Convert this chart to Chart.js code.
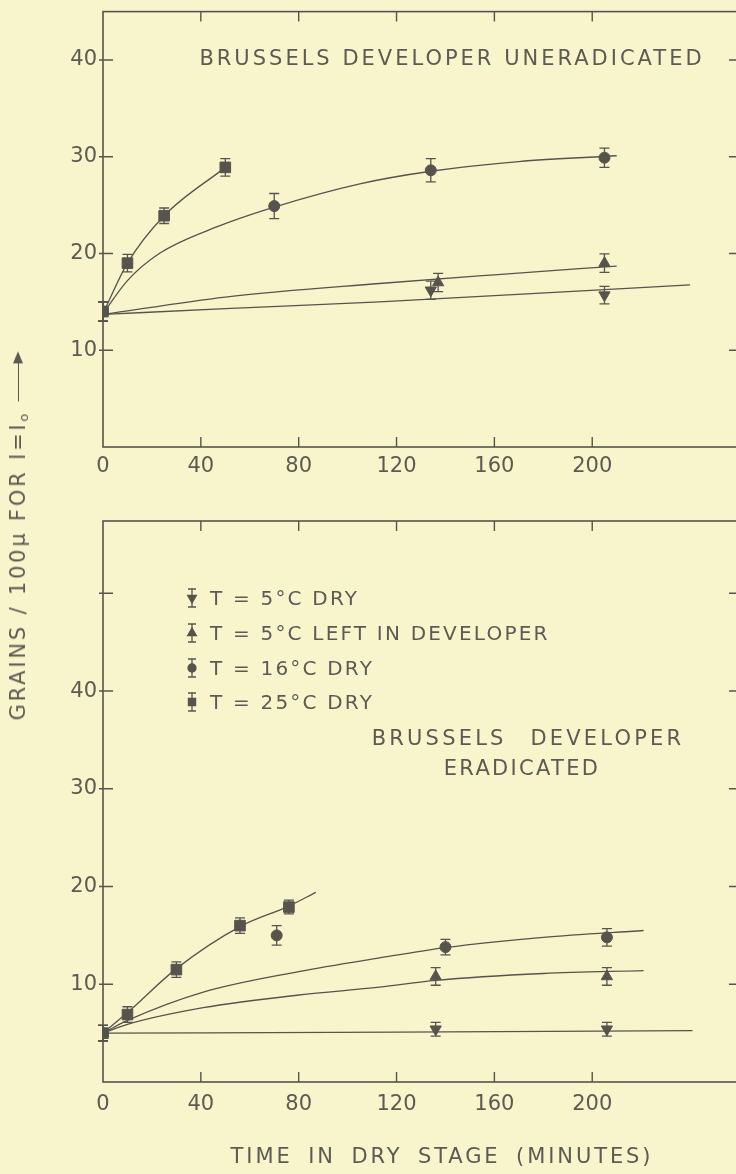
<!DOCTYPE html>
<html>
<head>
<meta charset="utf-8">
<script src="https://cdn.jsdelivr.net/npm/chart.js@4.4.1/dist/chart.umd.min.js"></script>
<style>
html, body { margin: 0; padding: 0; background: #f8f5cc; overflow: hidden; width: 736px; height: 1174px; }
#wrap { position: relative; width: 736px; height: 1174px; overflow: hidden;
        font-family: "DejaVu Sans", "Liberation Sans", sans-serif; color: #5c5a52; }
canvas { position: absolute; left: 0; }
.txt { position: absolute; white-space: nowrap; line-height: 1; font-size: 21px; letter-spacing: 2px; }
.ctr { transform: translate(-50%, -50%); }
.lg { font-size: 20px; letter-spacing: 2.2px; transform: translateY(-50%); }
#ytitle { position: absolute; left: 19px; top: 537px; white-space: nowrap; line-height: 1;
          font-size: 21px; letter-spacing: 2.8px; transform: translate(-50%, -50%) rotate(-90deg); }
#ytitle sub { font-size: 13px; vertical-align: -3px; letter-spacing: 0; }
.arrow { display: inline-block; position: relative; width: 48px; height: 1.5px; background: #5c5a52;
         vertical-align: 6px; margin-left: 12px; }
.arrow:after { content: ""; position: absolute; right: -2px; top: -5px; border-left: 12px solid #5c5a52;
               border-top: 5.5px solid transparent; border-bottom: 5.5px solid transparent; }
</style>
</head>
<body>
<div id="wrap">
  <canvas id="topChart" width="760" height="497" style="top:-7px"></canvas>
  <canvas id="bottomChart" width="760" height="684" style="top:490px"></canvas>

  <div class="txt ctr" style="left:452px; top:58px; letter-spacing:3px;">BRUSSELS DEVELOPER UNERADICATED</div>
  <div class="txt ctr" style="left:528px; top:738px; letter-spacing:3.2px; word-spacing:14px;">BRUSSELS DEVELOPER</div>
  <div class="txt ctr" style="left:522px; top:768px; letter-spacing:2.3px;">ERADICATED</div>

  <div class="txt lg" style="left:210px; top:598px;">T = 5°C DRY</div>
  <div class="txt lg" style="left:210px; top:633px;">T = 5°C LEFT IN DEVELOPER</div>
  <div class="txt lg" style="left:210px; top:668px;">T = 16°C DRY</div>
  <div class="txt lg" style="left:210px; top:702px;">T = 25°C DRY</div>

  <div class="txt ctr" style="left:442px; top:1156px; letter-spacing:2.9px; word-spacing:6px;">TIME IN DRY STAGE (MINUTES)</div>
  <div id="ytitle">GRAINS / 100μ FOR I=I<sub>o</sub><span class="arrow"></span></div>
</div>

<script>
// tick values
const xTickLabels = [0, 40, 80, 120, 160, 200];
const xTickMarks = [40, 80, 120, 160, 200];
const yTickLabelsTop = [10, 20, 30, 40];
const yTickLabelsBottom = [10, 20, 30, 40];
const yTickMarksBottom = [10, 20, 30, 40, 50];

// --- Brussels developer, uneradicated (top panel) ---
// measured points: time (min), grains / 100 micron, error
const tU5dry = [0, 134, 205];
const gU5dry = [14.0, 16.2, 15.7];
const eU5dry = [1.0, 0.95, 0.9];

const tU5left = [0, 137, 205];
const gU5left = [14.0, 17.0, 19.0];
const eU5left = [1.0, 0.95, 0.95];

const tU16 = [0, 70, 134, 205];
const gU16 = [14.0, 24.9, 28.6, 29.9];
const eU16 = [1.0, 1.3, 1.2, 1.0];

const tU25 = [0, 10, 25, 50];
const gU25 = [14.0, 19.0, 23.9, 28.9];
const eU25 = [1.0, 0.9, 0.8, 0.9];

// fitted curves
const cU5dryX = [0, 50, 113, 240];
const cU5dryY = [13.7, 14.3, 15.0, 16.75];
const cU5leftX = [0, 50, 113, 160, 210];
const cU5leftY = [13.7, 15.5, 16.9, 17.8, 18.7];
const cU16X = [0, 10, 23, 47, 70, 105, 134, 170, 210];
const cU16Y = [13.8, 17.2, 20.0, 22.8, 24.8, 27.2, 28.5, 29.5, 30.1];
const cU25X = [0, 10, 25, 50];
const cU25Y = [13.8, 19.0, 23.9, 28.9];

// --- Brussels developer, eradicated (bottom panel) ---
const tE5dry = [0, 136, 206];
const gE5dry = [5.0, 5.4, 5.4];
const eE5dry = [0.8, 0.7, 0.7];

const tE5left = [0, 136, 206];
const gE5left = [5.0, 10.8, 10.8];
const eE5left = [0.8, 0.9, 0.9];

const tE16 = [0, 71, 140, 206];
const gE16 = [5.0, 15.0, 13.8, 14.8];
const eE16 = [0.8, 1.0, 0.8, 0.9];

const tE25 = [0, 10, 30, 56, 76];
const gE25 = [5.0, 6.9, 11.5, 16.0, 17.9];
const eE25 = [0.8, 0.8, 0.8, 0.8, 0.7];

const cE5dryX = [0, 120, 241];
const cE5dryY = [5.0, 5.1, 5.25];
const cE5leftX = [0, 10, 41, 80, 113, 136, 180, 221];
const cE5leftY = [5.0, 5.9, 7.6, 8.9, 9.7, 10.4, 11.1, 11.4];
const cE16X = [0, 10, 41, 80, 113, 140, 180, 221];
const cE16Y = [5.0, 6.3, 9.2, 11.3, 12.7, 13.75, 14.8, 15.5];
const cE25X = [0, 10, 30, 56, 76, 87];
const cE25Y = [5.0, 7.1, 11.6, 15.9, 18.0, 19.4];

const INK = '#56544c';
const TEXT = '#5c5a52';
const FONT = { family: '"DejaVu Sans", "Liberation Sans", sans-serif', size: 21 };

function pts(xs, ys) { return xs.map((x, i) => ({ x: x, y: ys[i] })); }

function marks(xs, ys, errs, style, rot, r) {
    return {
        data: pts(xs, ys), errors: errs, showLine: false,
        pointStyle: style, rotation: rot, pointRadius: r,
        pointBackgroundColor: INK, pointBorderColor: INK, pointBorderWidth: 1
    };
}

function curve(xs, ys) {
    return {
        data: pts(xs, ys), showLine: true, pointRadius: 0,
        borderColor: INK, borderWidth: 1.3, fill: false,
        cubicInterpolationMode: 'monotone'
    };
}

// frame, inward ticks, error bars, legend glyphs
const framePlugin = {
    id: 'frame',
    afterDatasetsDraw(chart, args, opts) {
        const ctx = chart.ctx;
        const a = chart.chartArea;
        const xs = chart.scales.x, ys = chart.scales.y;
        ctx.save();
        ctx.strokeStyle = INK;
        ctx.fillStyle = INK;
        ctx.lineWidth = 1.6;
        ctx.strokeRect(a.left, a.top, a.right - a.left, a.bottom - a.top);
        ctx.lineWidth = 1.4;
        ctx.beginPath();
        opts.xTicks.forEach(v => {
            const px = xs.getPixelForValue(v);
            ctx.moveTo(px, a.bottom); ctx.lineTo(px, a.bottom - 10);
            ctx.moveTo(px, a.top); ctx.lineTo(px, a.top + 10);
        });
        opts.yTicks.forEach(v => {
            const py = ys.getPixelForValue(v);
            ctx.moveTo(a.left - 4, py); ctx.lineTo(a.left + 10, py);
            ctx.moveTo(a.right, py); ctx.lineTo(a.right - 10, py);
        });
        ctx.stroke();

        // error bars
        ctx.lineWidth = 1.3;
        chart.data.datasets.forEach((ds, i) => {
            if (!ds.errors) return;
            chart.getDatasetMeta(i).data.forEach((el, j) => {
                const v = ds.data[j].y, e = ds.errors[j];
                const y1 = ys.getPixelForValue(v + e), y2 = ys.getPixelForValue(v - e);
                ctx.beginPath();
                ctx.moveTo(el.x, y1); ctx.lineTo(el.x, y2);
                ctx.moveTo(el.x - 5, y1); ctx.lineTo(el.x + 5, y1);
                ctx.moveTo(el.x - 5, y2); ctx.lineTo(el.x + 5, y2);
                ctx.stroke();
            });
        });

        // legend glyphs
        (opts.legend || []).forEach(g => {
            ctx.beginPath();
            ctx.moveTo(g.x, g.y - 9); ctx.lineTo(g.x, g.y + 9);
            ctx.moveTo(g.x - 4, g.y - 9); ctx.lineTo(g.x + 4, g.y - 9);
            ctx.moveTo(g.x - 4, g.y + 9); ctx.lineTo(g.x + 4, g.y + 9);
            ctx.stroke();
            Chart.helpers.drawPoint(ctx, { pointStyle: g.style, rotation: g.rot, radius: g.r, borderWidth: 1 }, g.x, g.y);
        });
        ctx.restore();
    }
};

function options(yMax, yLabels, yMarks, padTop, xHeight, xPad, legend) {
    return {
        responsive: false,
        animation: false,
        layout: { padding: { top: padTop, right: 21, left: 0, bottom: 0 } },
        plugins: {
            legend: { display: false },
            tooltip: { enabled: false },
            frame: { xTicks: xTickMarks, yTicks: yMarks, legend: legend }
        },
        scales: {
            x: {
                type: 'linear', min: 0, max: 260,
                grid: { display: false, drawTicks: false },
                border: { display: false },
                afterBuildTicks: s => { s.ticks = xTickLabels.map(v => ({ value: v })); },
                afterFit: s => { s.height = xHeight; },
                ticks: { font: FONT, color: TEXT, padding: xPad, maxRotation: 0, autoSkip: false }
            },
            y: {
                type: 'linear', min: 0, max: yMax,
                grid: { display: false, drawTicks: false },
                border: { display: false },
                afterBuildTicks: s => { s.ticks = yLabels.map(v => ({ value: v })); },
                afterFit: s => { s.width = 103; },
                ticks: { font: FONT, color: TEXT, padding: 6, autoSkip: false }
            }
        }
    };
}

new Chart(document.getElementById('topChart'), {
    type: 'scatter',
    data: {
        datasets: [
            curve(cU5dryX, cU5dryY),
            curve(cU5leftX, cU5leftY),
            curve(cU16X, cU16Y),
            curve(cU25X, cU25Y),
            marks(tU5dry, gU5dry, eU5dry, 'triangle', 180, 6.5),
            marks(tU5left, gU5left, eU5left, 'triangle', 0, 6.5),
            marks(tU16, gU16, eU16, 'circle', 0, 5.5),
            marks(tU25, gU25, eU25, 'rect', 0, 7.5)
        ]
    },
    options: options(45, yTickLabelsTop, yTickLabelsTop, 11, 43, 7, []),
    plugins: [framePlugin]
});

new Chart(document.getElementById('bottomChart'), {
    type: 'scatter',
    data: {
        datasets: [
            curve(cE5dryX, cE5dryY),
            curve(cE5leftX, cE5leftY),
            curve(cE16X, cE16Y),
            curve(cE25X, cE25Y),
            marks(tE5dry, gE5dry, eE5dry, 'triangle', 180, 6.5),
            marks(tE5left, gE5left, eE5left, 'triangle', 0, 6.5),
            marks(tE16, gE16, eE16, 'circle', 0, 5.5),
            marks(tE25, gE25, eE25, 'rect', 0, 7.5)
        ]
    },
    options: options(57.4, yTickLabelsBottom, yTickMarksBottom, 31, 92, 10, [
        { style: 'triangle', rot: 180, r: 5, x: 192, y: 108 },
        { style: 'triangle', rot: 0, r: 5, x: 192, y: 143 },
        { style: 'circle', rot: 0, r: 4, x: 192, y: 178 },
        { style: 'rect', rot: 0, r: 5, x: 192, y: 212 }
    ]),
    plugins: [framePlugin]
});
</script>
</body>
</html>
